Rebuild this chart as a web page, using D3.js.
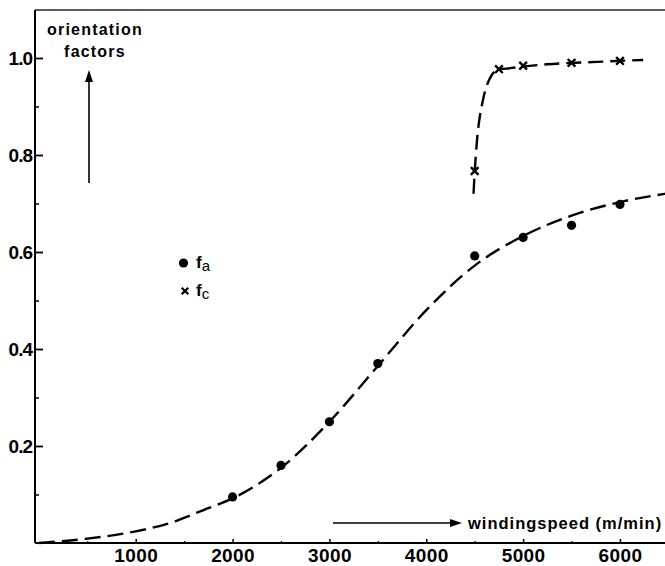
<!DOCTYPE html>
<html>
<head>
<meta charset="utf-8">
<script src="https://cdn.jsdelivr.net/npm/d3@7"></script>
<style>
  html, body { margin: 0; padding: 0; background: #fff; }
  svg { display: block; }
  text { font-family: "Liberation Sans", Arial, Helvetica, sans-serif; fill: #000; }
</style>
</head>
<body>
<svg id="chart" width="665" height="566"></svg>
<script>
// Winding speed (m/min) of the measured samples
const speedA = [2000, 2500, 3000, 3500, 4500, 5000, 5500, 6000];
// Orientation factor f_a (dots)
const valuesA = [0.095, 0.16, 0.25, 0.37, 0.592, 0.63, 0.655, 0.698];
// Orientation factor f_c (crosses)
const speedC = [4500, 4750, 5000, 5500, 6000];
const valuesC = [0.767, 0.977, 0.984, 0.99, 0.994];

// Hand-drawn trend curves through the measurements
const curveAx = [0, 500, 1000, 1350, 1700, 2000, 2500, 3000, 3500, 4000, 4500, 5000, 5500, 6000, 6465];
const curveAy = [0.0, 0.009, 0.024, 0.041, 0.068, 0.092, 0.155, 0.25, 0.365, 0.48, 0.572, 0.633, 0.675, 0.703, 0.72];
const curveCx = [4488, 4500, 4524, 4585, 4657, 4730, 4864, 5246, 5762, 6240];
const curveCy = [0.72, 0.765, 0.83, 0.913, 0.958, 0.975, 0.979, 0.987, 0.992, 0.996];

// Axis ticks
const xTicks = [1000, 2000, 3000, 4000, 5000, 6000];
const xMinor = [500, 1500, 2500, 3500, 4500, 5500];
const yTicks = [0.2, 0.4, 0.6, 0.8, 1.0];
const yMinor = [0.1, 0.3, 0.5, 0.7, 0.9];

const svg = d3.select("#chart");

const x = d3.scaleLinear().domain([-40, 6465]).range([35, 665]);
const y = d3.scaleLinear().domain([0, 1.1]).range([543, 9.5]);

// Frame: top border
svg.append("line")
  .attr("x1", 35).attr("x2", 665).attr("y1", 10).attr("y2", 10)
  .attr("stroke", "#222").attr("stroke-width", 1.6);

// Y axis
const yAxis = d3.axisLeft(y).tickValues(yTicks).tickFormat(d3.format(".1f"))
  .tickSizeInner(-8).tickSizeOuter(0).tickPadding(3);
const gy = svg.append("g").attr("transform", "translate(35,0)").call(yAxis);
gy.select(".domain").attr("stroke", "#000").attr("stroke-width", 2).attr("d", "M0,10V543");
gy.selectAll(".tick line").attr("stroke", "#000").attr("stroke-width", 1.8);
gy.selectAll(".tick text").attr("font-size", 19).attr("font-weight", "bold").attr("letter-spacing", -1);
const gyMinor = svg.append("g").attr("transform", "translate(35,0)")
  .call(d3.axisLeft(y).tickValues(yMinor).tickFormat("").tickSizeInner(-4).tickSizeOuter(0));
gyMinor.select(".domain").remove();
gyMinor.selectAll(".tick line").attr("stroke", "#000").attr("stroke-width", 1.5);

// X axis
const xAxis = d3.axisBottom(x).tickValues(xTicks).tickFormat(d3.format("d"))
  .tickSizeInner(-4).tickSizeOuter(0).tickPadding(6);
const gx = svg.append("g").attr("transform", "translate(0,543)").call(xAxis);
gx.select(".domain").attr("stroke", "#000").attr("stroke-width", 2.2).attr("d", "M35,0H665");
gx.selectAll(".tick line").attr("stroke", "#000").attr("stroke-width", 1.5);
gx.selectAll(".tick text").attr("font-size", 19).attr("font-weight", "bold").attr("letter-spacing", 0.4);
const gxMinor = svg.append("g").attr("transform", "translate(0,543)")
  .call(d3.axisBottom(x).tickValues(xMinor).tickFormat("").tickSizeInner(-2).tickSizeOuter(0));
gxMinor.select(".domain").remove();
gxMinor.selectAll(".tick line").attr("stroke", "#000").attr("stroke-width", 1.2);

// Dashed trend curves
const line = d3.line().x(d => x(d[0])).y(d => y(d[1])).curve(d3.curveMonotoneX);
svg.append("path")
  .attr("d", line(d3.zip(curveAx, curveAy)))
  .attr("fill", "none").attr("stroke", "#000").attr("stroke-width", 2.4)
  .attr("stroke-dasharray", "16,7");
svg.append("path")
  .attr("d", line(d3.zip(curveCx, curveCy)))
  .attr("fill", "none").attr("stroke", "#000").attr("stroke-width", 2.4)
  .attr("stroke-dasharray", "15,7");

// f_a markers
svg.append("g").selectAll("circle")
  .data(d3.zip(speedA, valuesA))
  .join("circle")
  .attr("cx", d => x(d[0])).attr("cy", d => y(d[1])).attr("r", 4.6)
  .attr("fill", "#000");

// f_c markers
const cross = d3.symbol().type(d3.symbolX).size(40);
svg.append("g").selectAll("path")
  .data(d3.zip(speedC, valuesC))
  .join("path")
  .attr("transform", d => `translate(${x(d[0])},${y(d[1])})`)
  .attr("d", cross())
  .attr("fill", "none").attr("stroke", "#000").attr("stroke-width", 2.4);

// Legend
svg.append("circle").attr("cx", 183.5).attr("cy", 263).attr("r", 4.6).attr("fill", "#000");
const la = svg.append("text").attr("x", 196).attr("y", 268).attr("font-size", 17).attr("font-weight", "bold");
la.append("tspan").text("f");
la.append("tspan").attr("dy", 3).attr("font-size", 15).attr("font-weight", "normal").text("a");
svg.append("path").attr("transform", "translate(185,291)").attr("d", d3.symbol().type(d3.symbolX).size(30)())
  .attr("fill", "none").attr("stroke", "#000").attr("stroke-width", 2.2);
const lc = svg.append("text").attr("x", 196).attr("y", 296).attr("font-size", 17).attr("font-weight", "bold");
lc.append("tspan").text("f");
lc.append("tspan").attr("dy", 3).attr("font-size", 15).attr("font-weight", "normal").text("c");

// Y axis title with upward arrow
svg.append("text").attr("x", 95).attr("y", 35).attr("text-anchor", "middle")
  .attr("font-size", 16).attr("font-weight", "bold").attr("letter-spacing", 1.2).text("orientation");
svg.append("text").attr("x", 95).attr("y", 57).attr("text-anchor", "middle")
  .attr("font-size", 16).attr("font-weight", "bold").attr("letter-spacing", 1.2).text("factors");
svg.append("line").attr("x1", 89).attr("x2", 89).attr("y1", 183).attr("y2", 78)
  .attr("stroke", "#000").attr("stroke-width", 1.6);
svg.append("path").attr("d", "M89,70 L85,82 L93,82 Z").attr("fill", "#000");

// X axis title with rightward arrow
svg.append("line").attr("x1", 333).attr("x2", 452).attr("y1", 523).attr("y2", 523)
  .attr("stroke", "#000").attr("stroke-width", 1.5);
svg.append("path").attr("d", "M462,523 L450,519 L450,527 Z").attr("fill", "#000");
svg.append("text").attr("x", 468).attr("y", 529)
  .attr("font-size", 16.5).attr("font-weight", "bold").attr("letter-spacing", 1)
  .text("windingspeed (m/min)");
</script>
</body>
</html>
